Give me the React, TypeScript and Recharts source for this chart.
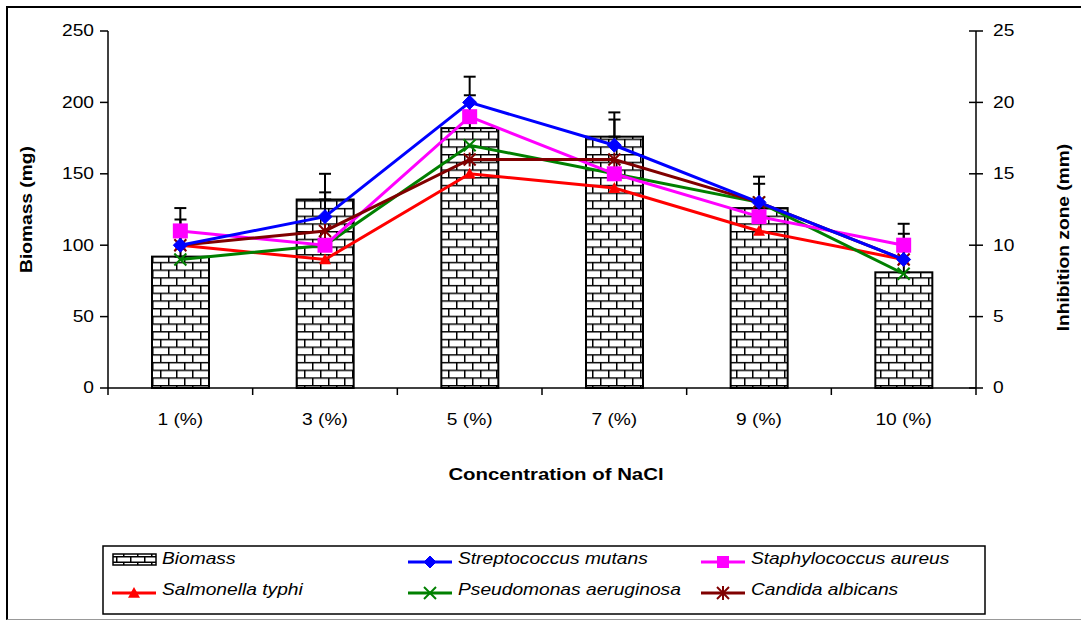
import React from 'react';
import { ComposedChart, Bar, Line, XAxis, YAxis, ErrorBar } from 'recharts';

const categories = ['1 (%)', '3 (%)', '5 (%)', '7 (%)', '9 (%)', '10 (%)'];
const biomass = [92, 132, 182, 176, 126, 81];
const biomassErr = [26, 5, 23, 12, 17, 27];
const strepMutans = [10, 12, 20, 17, 13, 9];
const strepErr = [2.6, 3, 1.8, 2.3, 1.8, 2.5];
const staphAureus = [11, 10, 19, 15, 12, 10];
const salmonella = [10, 9, 15, 14, 11, 9];
const pseudomonas = [9, 10, 17, 15, 13, 8];
const candida = [10, 11, 16, 16, 13, 9];
const leftTicks = [0, 50, 100, 150, 200, 250];
const rightTicks = [0, 5, 10, 15, 20, 25];

const data = categories.map((c, i) => ({
  cat: c,
  biomass: biomass[i],
  biomassErr: [0, biomassErr[i]],
  strep: strepMutans[i],
  strepErr: [0, strepErr[i]],
  staph: staphAureus[i],
  salm: salmonella[i],
  pseudo: pseudomonas[i],
  candida: candida[i],
}));

const FONT = '"Liberation Sans", Arial, Helvetica, sans-serif';
const SX = 1.2;
const W = 1081;
const H = 623;
const M = { top: 31, right: 45, bottom: 195, left: 48 };
const YW = 60;
const PLOT_W = W - M.left - M.right - 2 * YW;
const HALF_BAND = PLOT_W / categories.length / 2;

const BLUE = '#0000FF';
const MAGENTA = '#FF00FF';
const RED = '#FF0000';
const GREEN = '#008000';
const DARKRED = '#800000';

function SText(props: any) {
  const { x, y, anchor = 'middle', size = 16, weight = 'normal', italic = false, rotate = 0, children } = props;
  return (
    <text
      transform={`translate(${x},${y}) rotate(${rotate}) scale(${SX},1)`}
      x={0}
      y={0}
      textAnchor={anchor}
      dominantBaseline="central"
      fontFamily={FONT}
      fontSize={size}
      fontWeight={weight}
      fontStyle={italic ? 'italic' : 'normal'}
      fill="#000"
    >
      {children}
    </text>
  );
}

const BrickPattern = ({ id, w = 16, h = 15.4 }: any) => (
  <pattern id={id} patternUnits="userSpaceOnUse" width={w} height={h}>
    <rect width={w} height={h} fill="#fff" />
    <path
      d={`M0 0.75H${w} M0 ${h / 2 + 0.75}H${w} M0.75 0V${h / 2} M${w / 2 + 0.75} ${h / 2}V${h}`}
      stroke="#000"
      strokeWidth={1.5}
      fill="none"
    />
  </pattern>
);

const BrickBar = (props: any) => {
  const { x, y, width, height } = props;
  if (width == null || height == null) return null;
  return (
    <g>
      <defs>
        <BrickPattern id="brick" />
      </defs>
      <rect x={x} y={y} width={width} height={height} fill="url(#brick)" stroke="#000" strokeWidth={2} />
    </g>
  );
};

const markerDiamond = (cx: number, cy: number, color: string, s = 7) => (
  <polygon points={`${cx},${cy - s} ${cx + s},${cy} ${cx},${cy + s} ${cx - s},${cy}`} fill={color} stroke={color} />
);
const markerSquare = (cx: number, cy: number, color: string, s = 7.5) => (
  <rect x={cx - s} y={cy - s} width={2 * s} height={2 * s} fill={color} />
);
const markerTriangle = (cx: number, cy: number, color: string, s = 6) => (
  <polygon points={`${cx},${cy - s} ${cx + s},${cy + s * 0.8} ${cx - s},${cy + s * 0.8}`} fill={color} />
);
const markerX = (cx: number, cy: number, color: string, s = 6) => (
  <g stroke={color} strokeWidth={2}>
    <line x1={cx - s} y1={cy - s} x2={cx + s} y2={cy + s} />
    <line x1={cx - s} y1={cy + s} x2={cx + s} y2={cy - s} />
  </g>
);
const markerStar = (cx: number, cy: number, color: string, s = 6) => (
  <g stroke={color} strokeWidth={2}>
    <line x1={cx - s} y1={cy - s} x2={cx + s} y2={cy + s} />
    <line x1={cx - s} y1={cy + s} x2={cx + s} y2={cy - s} />
    <line x1={cx} y1={cy - s - 1} x2={cx} y2={cy + s + 1} />
  </g>
);

const makeDot = (fn: any, color: string) => (props: any) => {
  const { cx, cy, index } = props;
  if (cx == null || cy == null) return <g key={index} />;
  return <g key={index}>{fn(cx, cy, color)}</g>;
};

const LeftTick = (props: any) => {
  const { x, y, payload } = props;
  return (
    <SText x={x} y={y} anchor="end">
      {payload.value}
    </SText>
  );
};

const RightTick = (props: any) => {
  const { x, y, payload } = props;
  const axisX = x - 17;
  return (
    <g>
      <line x1={axisX - 7} y1={y} x2={axisX} y2={y} stroke="#000" strokeWidth={1.5} />
      <SText x={x} y={y} anchor="start">
        {payload.value}
      </SText>
    </g>
  );
};

const XTick = (props: any) => {
  const { x, y, payload, index } = props;
  const last = index === categories.length - 1;
  return (
    <g>
      <line x1={x - HALF_BAND} y1={y} x2={x - HALF_BAND} y2={y + 7} stroke="#000" strokeWidth={1.5} />
      {last && <line x1={x + HALF_BAND} y1={y} x2={x + HALF_BAND} y2={y + 7} stroke="#000" strokeWidth={1.5} />}
      <SText x={x} y={y + 32}>
        {payload.value}
      </SText>
    </g>
  );
};

const XTitle = (props: any) => {
  const vb = props.viewBox || { x: 0, y: 0, width: 0 };
  return (
    <SText x={vb.x + vb.width / 2 + 14} y={vb.y + 86} weight="bold" size={17}>
      Concentration of NaCl
    </SText>
  );
};

const LeftTitle = (props: any) => {
  const vb = props.viewBox || { x: 0, y: 0, width: 0, height: 0 };
  return (
    <SText x={vb.x - 21} y={vb.y + vb.height / 2} weight="bold" rotate={-90}>
      Biomass (mg)
    </SText>
  );
};

const RightTitle = (props: any) => {
  const vb = props.viewBox || { x: 0, y: 0, width: 0, height: 0 };
  return (
    <SText x={vb.x + 88} y={vb.y + vb.height / 2 + 28} weight="bold" rotate={-90}>
      Inhibition zone (mm)
    </SText>
  );
};

const legendItems = [
  { name: 'Biomass', kind: 'bar', color: '#000', col: 0, row: 0 },
  { name: 'Streptococcus mutans', kind: 'diamond', color: BLUE, col: 1, row: 0 },
  { name: 'Staphylococcus aureus', kind: 'square', color: MAGENTA, col: 2, row: 0 },
  { name: 'Salmonella typhi', kind: 'triangle', color: RED, col: 0, row: 1 },
  { name: 'Pseudomonas aeruginosa', kind: 'x', color: GREEN, col: 1, row: 1 },
  { name: 'Candida albicans', kind: 'star', color: DARKRED, col: 2, row: 1 },
];
const legendColX = [10, 306, 599];
const legendRowY = [14, 45];

const LegendBox = () => (
  <svg width={884} height={70} style={{ position: 'absolute', left: 102, top: 545 }}>
    <defs>
      <BrickPattern id="brickL" w={14} h={11} />
    </defs>
    <rect x={1} y={1} width={882} height={68} fill="#fff" stroke="#000" strokeWidth={1.5} />
    {legendItems.map((it) => {
      const sx = legendColX[it.col];
      const cy = legendRowY[it.row];
      const mx = sx + 22;
      let sym: any = null;
      if (it.kind === 'bar') {
        sym = <rect x={sx + 1} y={cy - 5} width={43} height={11} fill="url(#brickL)" stroke="#000" strokeWidth={1.5} />;
      } else {
        const my = cy + 3;
        let m: any = null;
        if (it.kind === 'diamond') m = markerDiamond(mx, my, it.color, 6);
        if (it.kind === 'square') m = markerSquare(mx, my, it.color, 6);
        if (it.kind === 'triangle') m = markerTriangle(mx, my, it.color, 6);
        if (it.kind === 'x') m = markerX(mx, my, it.color, 6);
        if (it.kind === 'star') m = markerStar(mx, my, it.color, 6);
        sym = (
          <g>
            <line x1={sx} y1={my} x2={sx + 44} y2={my} stroke={it.color} strokeWidth={3} />
            {m}
          </g>
        );
      }
      return (
        <g key={it.name}>
          {sym}
          <SText x={sx + 50} y={cy} anchor="start" italic>
            {it.name}
          </SText>
        </g>
      );
    })}
  </svg>
);

export default function App() {
  return (
    <div style={{ position: 'absolute', left: 0, top: 0, width: W, height: H, overflow: 'hidden', background: '#fff' }}>
      <div
        style={{
          position: 'absolute',
          left: 6,
          top: 6,
          width: 1100,
          height: 611,
          borderLeft: '2px solid #000',
          borderTop: '2px solid #000',
          borderBottom: '1px solid #999',
        }}
      />
      <div style={{ position: 'absolute', left: 0, top: 0 }}>
        <ComposedChart width={W} height={H} data={data} margin={M}>
          <XAxis
            dataKey="cat"
            xAxisId={0}
            height={40}
            interval={0}
            tickLine={false}
            tickSize={0}
            tickMargin={0}
            tick={<XTick />}
            axisLine={{ stroke: '#000', strokeWidth: 1.5 }}
            label={<XTitle />}
          />
          <YAxis
            yAxisId="left"
            orientation="left"
            width={YW}
            domain={[0, 250]}
            ticks={leftTicks}
            interval={0}
            tickSize={8}
            tickMargin={6}
            tick={<LeftTick />}
            tickLine={{ stroke: '#000', strokeWidth: 1.5 }}
            axisLine={{ stroke: '#000', strokeWidth: 1.5 }}
            label={<LeftTitle />}
          />
          <YAxis
            yAxisId="right"
            orientation="right"
            width={YW}
            domain={[0, 25]}
            ticks={rightTicks}
            interval={0}
            tickSize={7}
            tickMargin={10}
            tick={<RightTick />}
            tickLine={{ stroke: '#000', strokeWidth: 1.5 }}
            axisLine={{ stroke: '#000', strokeWidth: 1.5 }}
            label={<RightTitle />}
          />
          <Bar yAxisId="left" dataKey="biomass" barSize={57} shape={<BrickBar />} isAnimationActive={false}>
            <ErrorBar dataKey="biomassErr" direction="y" width={6} stroke="#000" strokeWidth={2} />
          </Bar>
          <Line yAxisId="right" type="linear" dataKey="salm" stroke={RED} strokeWidth={3} dot={makeDot(markerTriangle, RED)} activeDot={false} isAnimationActive={false} />
          <Line yAxisId="right" type="linear" dataKey="pseudo" stroke={GREEN} strokeWidth={3} dot={makeDot(markerX, GREEN)} activeDot={false} isAnimationActive={false} />
          <Line yAxisId="right" type="linear" dataKey="staph" stroke={MAGENTA} strokeWidth={3} dot={makeDot(markerSquare, MAGENTA)} activeDot={false} isAnimationActive={false} />
          <Line yAxisId="right" type="linear" dataKey="candida" stroke={DARKRED} strokeWidth={3} dot={makeDot(markerStar, DARKRED)} activeDot={false} isAnimationActive={false} />
          <Line yAxisId="right" type="linear" dataKey="strep" stroke={BLUE} strokeWidth={3} dot={makeDot(markerDiamond, BLUE)} activeDot={false} isAnimationActive={false}>
            <ErrorBar dataKey="strepErr" direction="y" width={6} stroke="#000" strokeWidth={2} />
          </Line>
        </ComposedChart>
      </div>
      <LegendBox />
    </div>
  );
}
